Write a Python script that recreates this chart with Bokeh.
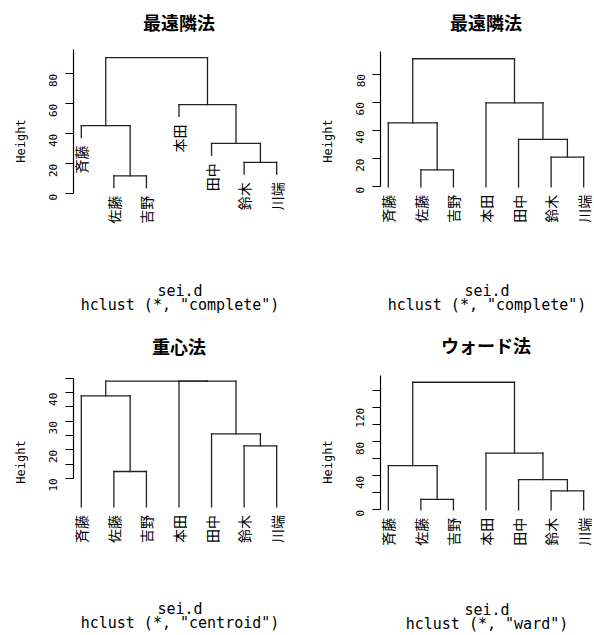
import math
from bokeh.plotting import figure
from bokeh.models import ColumnDataSource, Range1d, FixedTicker, Label
from bokeh.layouts import column, row
from bokeh.embed import file_html
from bokeh.resources import INLINE
from bokeh.core.properties import value

# ---------------- data ----------------
leaf_labels = ["斉藤", "佐藤", "吉野", "本田", "田中", "鈴木", "川端"]
# R-style merge matrix (negative = leaf position, positive = earlier merge step)
merge_pairs = [(-2, -3), (-6, -7), (-5, 2), (-1, 1), (-4, 3), (4, 5)]
complete_heights = [12.0, 21.0, 33.6, 45.4, 59.5, 90.8]
centroid_heights = [12.4, 21.4, 25.6, 38.9, 44.0, 44.0]
ward_heights = [12.3, 22.3, 35.4, 51.9, 66.6, 150.0]

panel_titles = ["最遠隣法", "最遠隣法", "重心法", "ウォード法"]
panel_methods = ["complete", "complete", "centroid", "ward"]
data_name = "sei.d"
y_axis_title = "Height"

complete_ticks = [0, 20, 40, 60, 80]
complete_tick_labels = ["0", "20", "40", "60", "80"]
centroid_ticks = [10, 15, 20, 25, 30, 35, 40, 45]
centroid_tick_labels = ["10", "", "20", "", "30", "", "40", ""]
ward_ticks = [0, 20, 40, 60, 80, 100, 120, 140]
ward_tick_labels = ["0", "", "40", "", "80", "", "120", ""]

CJK = "Noto Sans CJK JP"
MONO = "DejaVu Sans Mono"


def dendrogram(heights, hang):
    n = len(leaf_labels)
    leaf_y = [0.0] * n
    for k, (a, b) in enumerate(merge_pairs):
        for c in (a, b):
            if c < 0:
                leaf_y[-c - 1] = heights[k] - hang if hang >= 0 else 0.0
    node_x = {}
    x0, y0, x1, y1 = [], [], [], []
    for k, (a, b) in enumerate(merge_pairs):
        h = heights[k]
        cx = []
        for c in (a, b):
            if c < 0:
                x, y = float(-c), leaf_y[-c - 1]
            else:
                x, y = node_x[c], heights[c - 1]
            x0.append(x); y0.append(y); x1.append(x); y1.append(h)
            cx.append(x)
        x0.append(cx[0]); y0.append(h); x1.append(cx[1]); y1.append(h)
        node_x[k + 1] = (cx[0] + cx[1]) / 2
    segs = dict(x0=x0, y0=y0, x1=x1, y1=y1)
    leaves = dict(x=[float(i + 1) for i in range(n)], y=leaf_y, text=leaf_labels)
    return segs, leaves


def make_panel(idx, heights, hang, ticks, tick_labels, axis_bounds,
               row_top, width, height, frame_top, frame_bottom,
               y0_page, px_y, title_center, sub_center):
    border_left = 73
    px_x = 32.56
    frame_w = width - border_left - (21 if width > 290 else 0)
    x_start = 0.76
    x_end = x_start + frame_w / px_x
    p = figure(width=width, height=height, output_backend="svg",
               toolbar_location=None, x_axis_location="below",
               y_axis_location="left",
               x_range=Range1d(x_start, x_end),
               y_range=Range1d((y0_page - frame_bottom) / px_y,
                               (y0_page - frame_top) / px_y),
               min_border_left=border_left,
               min_border_right=width - border_left - frame_w,
               min_border_top=frame_top - row_top,
               min_border_bottom=row_top + height - frame_bottom)
    p.outline_line_color = None
    p.grid.visible = False
    p.background_fill_color = "white"
    p.border_fill_color = "white"

    # title (inside the frame, centred over the R plot region x = 0.76 .. 7.24)
    p.add_layout(Label(x=4.0, y=(y0_page - title_center) / px_y,
                       text=panel_titles[idx], text_font=CJK,
                       text_font_size="18px", text_font_style="bold",
                       text_align="center", text_baseline="middle",
                       text_color="black"))

    # y axis (R style: outward ticks, rotated labels)
    ax = p.yaxis[0]
    ax.ticker = FixedTicker(ticks=ticks)
    ax.major_label_overrides = {t: l for t, l in zip(ticks, tick_labels)}
    ax.bounds = axis_bounds
    ax.minor_tick_line_color = None
    ax.major_tick_in = 0
    ax.major_tick_out = 8
    ax.axis_line_color = "black"
    ax.major_tick_line_color = "black"
    ax.axis_line_width = 1.2
    ax.major_tick_line_width = 1.2
    ax.major_label_orientation = math.pi / 2
    ax.major_label_standoff = 12
    ax.major_label_text_font = MONO
    ax.major_label_text_font_size = "11px"
    ax.major_label_text_color = "black"
    ax.axis_label = y_axis_title
    ax.axis_label_text_font = MONO
    ax.axis_label_text_font_size = "12px"
    ax.axis_label_text_font_style = "normal"
    ax.axis_label_text_color = "black"
    ax.axis_label_standoff = 15

    # x axis only carries the sub-title (R's "sei.d / hclust (*, ...)")
    xa = p.xaxis[0]
    xa.ticker = FixedTicker(ticks=[])
    xa.axis_line_color = None
    xa.major_tick_line_color = None
    xa.minor_tick_line_color = None
    xa.major_tick_out = 0
    xa.major_tick_in = 0
    xa.axis_label = '%s\nhclust (*, "%s")' % (data_name, panel_methods[idx])
    xa.axis_label_text_font = MONO
    xa.axis_label_text_font_size = "15px"
    xa.axis_label_text_font_style = "normal"
    xa.axis_label_text_color = "black"
    xa.axis_label_text_line_height = 0.8
    xa.axis_label_standoff = int(round(sub_center - 8 - frame_bottom))

    segs, leaves = dendrogram(heights, hang)
    p.segment(x0="x0", y0="y0", x1="x1", y1="y1", source=ColumnDataSource(segs),
              line_color="#222222", line_width=1.3, line_cap="square")
    p.text(x="x", y="y", text="text", source=ColumnDataSource(leaves),
           angle=math.pi / 2, text_align="right", text_baseline="middle",
           y_offset=8, text_font=value(CJK), text_font_size="14px",
           text_color="black")
    return p


# image pixels: row 1 spans y 0..322, row 2 spans y 322..635
p1 = make_panel(0, complete_heights, 7.9, complete_ticks, complete_tick_labels, (0, 96),
                0, 307, 322, 8, 273, 193.3, 1.5, 21, 289)
p2 = make_panel(1, complete_heights, -1, complete_ticks, complete_tick_labels, (0, 96),
                0, 286, 322, 8, 273, 186.3, 1.41, 21.5, 289)
p3 = make_panel(2, centroid_heights, -1, centroid_ticks, centroid_tick_labels, (10, 45),
                322, 307, 313, 334, 594, 509.8, 2.913, 346, 612)
p4 = make_panel(3, ward_heights, -1, ward_ticks, ward_tick_labels, (0, 157.5),
                322, 286, 313, 333, 593, 511.7, 0.8667, 343.5, 612)

layout = column(row(p1, p2, spacing=0), row(p3, p4, spacing=0), spacing=0)
open("out.html", "w").write(file_html(layout, INLINE))
